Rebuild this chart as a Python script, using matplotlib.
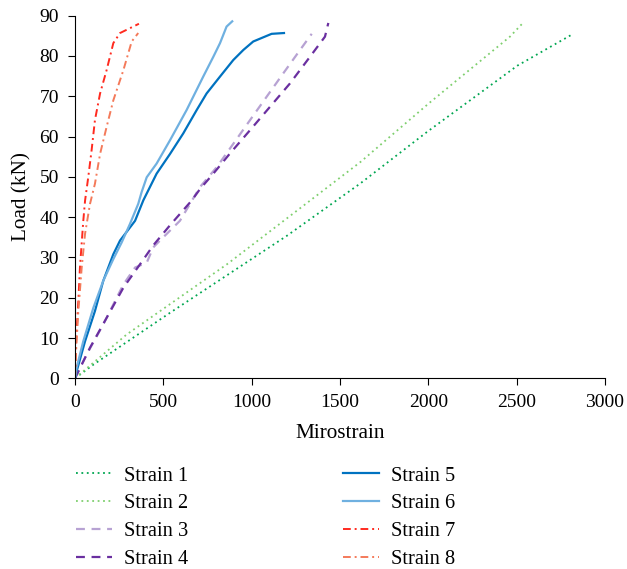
import matplotlib.pyplot as plt

plt.rcParams['font.family'] = ['Liberation Serif', 'DejaVu Serif']

# microstrain / load (kN)
s1_x = [0, 104, 539, 1200, 1616, 1994, 2504, 2816]
s1_y = [0, 3.4, 16.3, 35.4, 48.4, 61.2, 77.6, 85.4]
s2_x = [0, 293, 860, 1616, 2007, 2462, 2529]
s2_y = [0, 10.9, 28.3, 53.7, 68.4, 84.8, 87.9]
s3_x = [0, 66, 160, 274, 340, 406, 443, 481, 594, 708, 802, 896, 991, 1085, 1179, 1274, 1340]
s3_y = [0, 5.9, 13.4, 23.3, 27.5, 28.7, 32.5, 34.2, 39.1, 47.5, 52.4, 58.2, 64.1, 69.9, 75.7, 81.5, 85.5]
s4_x = [0, 85, 179, 274, 368, 443, 538, 660, 708, 783, 877, 991, 1104, 1217, 1330, 1415, 1434]
s4_y = [0, 7.6, 15.0, 22.5, 28.3, 33.0, 38.0, 44.1, 47.0, 50.8, 55.8, 61.6, 67.4, 73.2, 79.8, 84.8, 88.2]
s5_x = [0, 9, 57, 113, 160, 217, 255, 340, 387, 462, 538, 613, 689, 745, 821, 896, 953, 1009, 1113, 1183]
s5_y = [0, 1.7, 9.2, 16.7, 24.2, 30.8, 34.2, 39.1, 44.2, 50.8, 55.7, 60.8, 66.6, 70.7, 74.9, 79.0, 81.5, 83.6, 85.5, 85.7]
s6_x = [0, 9, 47, 104, 160, 217, 264, 311, 358, 377, 406, 462, 538, 632, 726, 783, 821, 858, 890]
s6_y = [0, 2.6, 9.2, 17.5, 24.2, 29.6, 33.7, 38.3, 43.3, 46.2, 49.9, 53.3, 59.1, 66.6, 74.9, 79.8, 83.2, 87.3, 88.6]
s7_x = [0, 6, 19, 28, 47, 57, 75, 94, 113, 142, 179, 217, 255, 362]
s7_y = [0, 9.2, 19.2, 27.5, 39.1, 44.1, 49.9, 56.6, 64.1, 70.7, 76.5, 83.2, 85.7, 88.0]
s8_x = [0, 6, 19, 38, 57, 85, 113, 142, 179, 217, 274, 321, 358]
s8_y = [0, 6.7, 16.7, 27.5, 35.9, 43.3, 48.3, 55.7, 62.4, 69.0, 76.5, 83.6, 85.7]

fig = plt.figure(figsize=(6.27, 5.69), dpi=100)
ax = fig.add_axes([0.1196, 0.3351, 0.8453, 0.6373])

ax.plot(s1_x, s1_y, color="#00a651", ls=(0, (1, 2)), lw=1.3, label="Strain 1")
ax.plot(s2_x, s2_y, color="#7fcf6e", ls=(0, (1, 2)), lw=1.3, label="Strain 2")
ax.plot(s3_x, s3_y, color="#b7a2d3", ls=(0, (4, 3)), lw=1.6, label="Strain 3")
ax.plot(s4_x, s4_y, color="#6a2fa0", ls=(0, (4, 3)), lw=1.6, label="Strain 4")
ax.plot(s5_x, s5_y, color="#0072c0", ls="-", lw=1.6, label="Strain 5")
ax.plot(s6_x, s6_y, color="#6fb0e0", ls="-", lw=1.6, label="Strain 6")
ax.plot(s7_x, s7_y, color="#ff2a1f", ls=(0, (4, 2, 1, 2)), lw=1.4, label="Strain 7")
ax.plot(s8_x, s8_y, color="#f47a5a", ls=(0, (4, 2, 1, 2)), lw=1.4, label="Strain 8")

ax.set_xlim(0, 3000)
ax.set_ylim(0, 90)
ax.set_xticks(range(0, 3001, 500))
ax.set_yticks(range(0, 91, 10))
ax.spines[['top', 'right']].set_visible(False)
ax.tick_params(labelsize=14, direction='out', length=5, pad=6.5)
ax.set_xlabel("Mirostrain", fontsize=15.3, labelpad=9)
ax.set_ylabel("Load (kN)", fontsize=15.3, labelpad=6)

handles, labels = ax.get_legend_handles_labels()
fig.legend(handles, labels, loc='upper left', bbox_to_anchor=(0.108, 0.195),
           ncol=2, frameon=False, fontsize=14.7, handlelength=1.75,
           handletextpad=0.6, labelspacing=0.42, columnspacing=7.6,
           borderaxespad=0)

fig.savefig("out.png", dpi=100)
